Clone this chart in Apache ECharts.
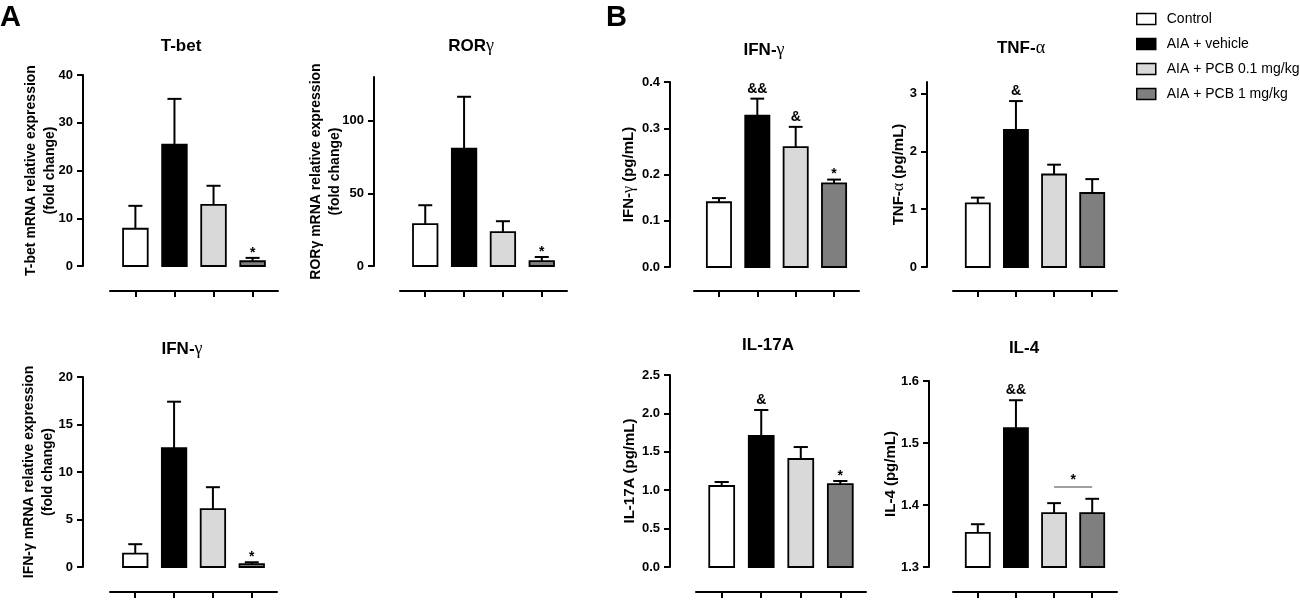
<!DOCTYPE html>
<html>
<head>
<meta charset="utf-8">
<script src="https://cdn.jsdelivr.net/npm/echarts@6/dist/echarts.min.js"></script>
<style>
html, body { margin: 0; padding: 0; background: #fff; }
#chart { width: 1300px; height: 604px; }
</style>
</head>
<body>
<div id="chart"></div>
<script>
var groups = ['Control', 'AIA + vehicle', 'AIA + PCB 0.1 mg/kg', 'AIA + PCB 1 mg/kg'];

// A - mRNA relative expression (fold change), mean and top of error bar
var tbetMean  = [7.8, 25.4, 12.8, 1.0];
var tbetErr   = [12.6, 35.0, 16.8, 1.7];
var tbetMarks = ['', '', '', '*'];
var tbetTicks = [0, 10, 20, 30, 40];

var rorgMean  = [28.8, 80.8, 23.3, 3.4];
var rorgErr   = [41.8, 116.4, 30.8, 6.2];
var rorgMarks = ['', '', '', '*'];
var rorgTicks = [0, 50, 100];

var ifngMrnaMean  = [1.4, 12.5, 6.1, 0.3];
var ifngMrnaErr   = [2.4, 17.4, 8.4, 0.5];
var ifngMrnaMarks = ['', '', '', '*'];
var ifngMrnaTicks = [0, 5, 10, 15, 20];

// B - serum levels (pg/mL)
var ifngMean  = [0.140, 0.327, 0.259, 0.181];
var ifngErr   = [0.149, 0.364, 0.303, 0.189];
var ifngMarks = ['', '&&', '&', '*'];
var ifngTicks = [0, 0.1, 0.2, 0.3, 0.4];

var tnfMean  = [1.10, 2.37, 1.60, 1.28];
var tnfErr   = [1.20, 2.87, 1.77, 1.52];
var tnfMarks = ['', '&', '', ''];
var tnfTicks = [0, 1, 2, 3];

var il17Mean  = [1.055, 1.706, 1.406, 1.08];
var il17Err   = [1.107, 2.044, 1.562, 1.12];
var il17Marks = ['', '&', '', '*'];
var il17Ticks = [0, 0.5, 1.0, 1.5, 2.0, 2.5];

var il4Mean  = [1.355, 1.524, 1.387, 1.387];
var il4Err   = [1.369, 1.569, 1.403, 1.410];
var il4Marks = ['', '&&', '', ''];
var il4Ticks = [1.3, 1.4, 1.5, 1.6];
var il4Bracket = [2, 3, 1.429];   // from group, to group, level
var il4BracketMark = '*';

var F = '"Liberation Sans", Arial, sans-serif';
var fills = ['#ffffff', '#000000', '#d9d9d9', '#7f7f7f'];
var greekFont = '"Liberation Serif", serif';

var panels = [
    { mean: tbetMean, err: tbetErr, marks: tbetMarks, ticks: tbetTicks, max: 40, digits: 0,
      title: 'T-bet', tx: 181, ty: 46,
      name: 'T-bet mRNA relative expression\n(fold change)', nameSize: 14, nameGap: 23,
      grid: { left: 110, top: 75, width: 168, height: 191 }, yOff: 27, xOff: 25 },
    { mean: rorgMean, err: rorgErr, marks: rorgMarks, ticks: rorgTicks, max: 130, digits: 0,
      title: 'ROR{g|γ}', tx: 471, ty: 46,
      name: 'RORγ mRNA relative expression\n(fold change)', nameSize: 14, nameGap: 29,
      grid: { left: 400, top: 77, width: 167, height: 189 }, yOff: 26, xOff: 25 },
    { mean: ifngMrnaMean, err: ifngMrnaErr, marks: ifngMrnaMarks, ticks: ifngMrnaTicks, max: 20, digits: 0,
      title: 'IFN-{g|γ}', tx: 182, ty: 349,
      name: 'IFN-γ mRNA relative expression\n(fold change)', nameSize: 14, nameGap: 25,
      grid: { left: 110, top: 377, width: 167, height: 190 }, yOff: 27, xOff: 25 },
    { mean: ifngMean, err: ifngErr, marks: ifngMarks, ticks: ifngTicks, max: 0.4, digits: 1,
      title: 'IFN-{g|γ}', tx: 764, ty: 50,
      name: 'IFN-{g|γ} (pg/mL)', nameSize: 15, nameGap: 32,
      grid: { left: 694, top: 82, width: 165, height: 185 }, yOff: 24, xOff: 24 },
    { mean: tnfMean, err: tnfErr, marks: tnfMarks, ticks: tnfTicks, max: 3.2, digits: 0,
      title: 'TNF-{g|α}', tx: 1021, ty: 48,
      name: 'TNF-{g|α} (pg/mL)', nameSize: 15, nameGap: 19,
      grid: { left: 953, top: 82, width: 164, height: 185 }, yOff: 26, xOff: 24 },
    { mean: il17Mean, err: il17Err, marks: il17Marks, ticks: il17Ticks, max: 2.5, digits: 1,
      title: 'IL-17A', tx: 768, ty: 345,
      name: 'IL-17A (pg/mL)', nameSize: 15, nameGap: 31,
      grid: { left: 696, top: 375, width: 170, height: 192 }, yOff: 26, xOff: 25 },
    { mean: il4Mean, err: il4Err, marks: il4Marks, ticks: il4Ticks, max: 1.6, digits: 1,
      title: 'IL-4', tx: 1024, ty: 348,
      name: 'IL-4 (pg/mL)', nameSize: 15, nameGap: 29,
      grid: { left: 953, top: 381, width: 164, height: 186 }, yOff: 24, xOff: 25 }
];

// text above a point; the asterisk sits high in its box so drop it a little
function markText(str, x, y) {
    return { type: 'text', x: x, y: y + (str === '*' ? 2 : -3),
        style: { text: str, align: 'center', verticalAlign: 'bottom',
                 font: 'bold 14px ' + F, fill: '#000' } };
}

function barRenderer(p) {
    return function (params, api) {
        var i = params.dataIndex;
        var x = api.value(0);
        var b = api.coord([x, p.ticks[0]]);
        var t = api.coord([x, api.value(1)]);
        var c = api.coord([x, api.value(2)]);
        var unit = api.size([1, 0])[0];
        var w = unit * 0.63, cap = unit * 0.36;
        var kids = [
            { type: 'line', shape: { x1: t[0], y1: t[1], x2: c[0], y2: c[1] },
              style: { stroke: '#000', lineWidth: 2 } },
            { type: 'line', shape: { x1: c[0] - cap / 2, y1: c[1], x2: c[0] + cap / 2, y2: c[1] },
              style: { stroke: '#000', lineWidth: 2 } },
            { type: 'rect', shape: { x: b[0] - w / 2, y: t[1], width: w, height: b[1] - t[1] },
              style: { fill: fills[i], stroke: '#000', lineWidth: 1.8 } }
        ];
        if (p.marks[i]) kids.push(markText(p.marks[i], c[0], c[1]));
        return { type: 'group', children: kids };
    };
}

var grids = [], xAxes = [], yAxes = [], series = [], graphics = [];

panels.forEach(function (p, k) {
    grids.push(p.grid);
    xAxes.push({
        gridIndex: k, type: 'value', min: -0.65, max: 3.65, position: 'bottom', offset: p.xOff,
        axisLine: { show: true, onZero: false, lineStyle: { color: '#000', width: 2 } },
        axisTick: { show: true, customValues: [0, 1, 2, 3], length: 6, lineStyle: { color: '#000', width: 2 } },
        axisLabel: { show: false, customValues: [0, 1, 2, 3] },
        splitLine: { show: false }
    });
    yAxes.push({
        gridIndex: k, type: 'value', min: p.ticks[0], max: p.max, position: 'left', offset: p.yOff,
        axisLine: { show: true, onZero: false, lineStyle: { color: '#000', width: 2 } },
        axisTick: { show: true, customValues: p.ticks, length: 6, lineStyle: { color: '#000', width: 2 } },
        axisLabel: {
            customValues: p.ticks, margin: 10, color: '#000',
            fontFamily: F, fontWeight: 'bold', fontSize: 13,
            formatter: function (v) { return Number(v).toFixed(p.digits); }
        },
        splitLine: { show: false },
        name: p.name, nameLocation: 'middle', nameGap: p.nameGap, nameMoveOverlap: false,
        nameTextStyle: {
            fontFamily: F, fontWeight: 'bold', fontSize: p.nameSize, lineHeight: 19, color: '#000',
            rich: { g: { fontFamily: greekFont, fontWeight: 'normal', fontSize: p.nameSize + 1, color: '#000' } }
        }
    });
    series.push({
        type: 'custom', xAxisIndex: k, yAxisIndex: k,
        data: p.mean.map(function (m, i) { return [i, m, p.err[i]]; }),
        renderItem: barRenderer(p)
    });
    graphics.push({
        type: 'text', x: p.tx, y: p.ty,
        style: {
            text: p.title, align: 'center', verticalAlign: 'middle',
            fontFamily: F, fontWeight: 'bold', fontSize: 17, fill: '#000',
            rich: { g: { fontFamily: greekFont, fontWeight: 'normal', fontSize: 18, fill: '#000' } }
        }
    });
});

// significance bracket in IL-4
series.push({
    type: 'custom', xAxisIndex: 6, yAxisIndex: 6,
    encode: { x: [0, 1], y: 2 },
    data: [il4Bracket],
    renderItem: function (params, api) {
        var a = api.coord([api.value(0), api.value(2)]);
        var b = api.coord([api.value(1), api.value(2)]);
        return { type: 'group', children: [
            { type: 'line', shape: { x1: a[0], y1: a[1], x2: b[0], y2: b[1] },
              style: { stroke: '#808080', lineWidth: 1.5 } },
            markText(il4BracketMark, (a[0] + b[0]) / 2, a[1] - 2)
        ] };
    }
});

// empty series that only feed the legend
groups.forEach(function (g) {
    series.push({ type: 'custom', name: g, xAxisIndex: 0, yAxisIndex: 0, data: [],
                  renderItem: function () { return null; } });
});

graphics.push({ type: 'text', x: 0, y: 3, style: { text: 'A', font: 'bold 29px ' + F, fill: '#000', verticalAlign: 'top' } });
graphics.push({ type: 'text', x: 606, y: 3, style: { text: 'B', font: 'bold 29px ' + F, fill: '#000', verticalAlign: 'top' } });

var chart = echarts.init(document.getElementById('chart'));
chart.setOption({
    animation: false,
    backgroundColor: '#fff',
    grid: grids,
    xAxis: xAxes,
    yAxis: yAxes,
    legend: {
        orient: 'vertical', left: 1136, top: 12, padding: 0,
        itemWidth: 19, itemHeight: 11, itemGap: 11, icon: 'rect', selectedMode: false,
        textStyle: { fontFamily: F, fontSize: 14, lineHeight: 14, color: '#000', padding: [0, 0, 0, 6] },
        data: groups.map(function (g, i) {
            return { name: g, itemStyle: { color: fills[i], borderColor: '#000', borderWidth: 1.5 } };
        })
    },
    graphic: graphics,
    series: series
});
</script>
</body>
</html>
